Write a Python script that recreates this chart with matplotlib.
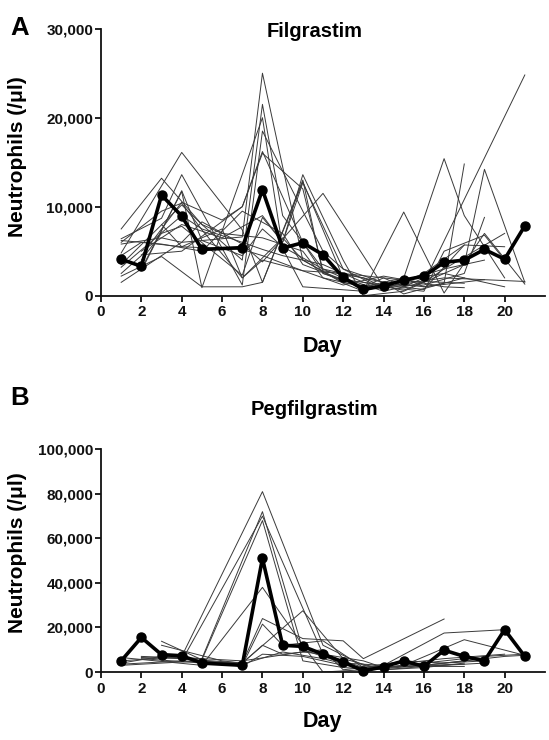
import matplotlib
matplotlib.use("Agg")
import matplotlib.pyplot as plt
import numpy as np
from matplotlib.ticker import FuncFormatter

plt.rcParams['font.family'] = ['Liberation Sans', 'DejaVu Sans']
plt.rcParams['font.weight'] = 'bold'

# ---------------- Panel A: Filgrastim ----------------
fil_mean_days = [1, 2, 3, 4, 5, 7, 8, 9, 10, 11, 12, 13, 14, 15, 16, 17, 18, 19, 20, 21]
fil_mean_vals = [4100, 3300, 11300, 8950, 5200, 5400, 11900, 5350, 5950, 4600, 2050, 700, 1100,
                 1750, 2200, 3750, 4000, 5200, 4100, 7850]

fil_ind_days = [
    [1, 3, 5, 7, 8, 9, 11, 13, 15, 17, 18, 20],
    [1, 4, 7, 8, 10, 12, 14, 16, 18, 19, 21],
    [2, 4, 5, 8, 9, 10, 13, 15, 17, 19, 21],
    [1, 3, 4, 7, 8, 11, 12, 14, 16, 17, 18],
    [1, 2, 4, 6, 7, 8, 10, 11, 13, 14, 15, 16],
    [1, 4, 5, 7, 8, 11, 14, 16, 17, 19, 20],
    [2, 4, 6, 8, 9, 10, 12, 13, 15, 16, 21],
    [1, 3, 5, 7, 9, 10, 12, 14, 16, 18, 20],
    [1, 4, 5, 6, 8, 10, 11, 13, 15, 17, 19],
    [2, 3, 4, 7, 8, 9, 10, 12, 14, 16, 18],
    [1, 3, 4, 7, 8, 10, 12, 13, 15, 17, 20],
    [2, 4, 5, 7, 8, 9, 11, 12, 14, 15, 18],
    [1, 3, 5, 7, 8, 10, 11, 13, 16, 18, 19],
    [1, 2, 4, 7, 8, 10, 12, 14, 16, 17, 20],
    [3, 4, 6, 7, 9, 10, 12, 14, 15, 16, 19],
    [1, 4, 5, 7, 8, 9, 11, 13, 15, 16, 18],
    [2, 4, 7, 8, 10, 11, 13, 14, 17, 19, 21],
    [1, 3, 4, 5, 7, 8, 10, 12, 14, 17, 18],
]
fil_ind_vals = [
    [7500, 13200, 8000, 4000, 21500, 9000, 3000, 1000, 2000, 15400, 9000, 2000],
    [4800, 16100, 7400, 1500, 12800, 2000, 500, 1500, 3500, 14200, 1500],
    [3000, 11700, 900, 20000, 5300, 1000, 500, 9400, 300, 7000, 1300],
    [6400, 8700, 13600, 1200, 18500, 5000, 3000, 1500, 1000, 1400, 14800],
    [2500, 4500, 10500, 8500, 10000, 16200, 6000, 2500, 1000, 2000, 1000, 2000],
    [1500, 6000, 8300, 5800, 3800, 11500, 1000, 500, 5000, 6800, 4000],
    [5000, 8000, 6500, 9000, 6000, 13600, 4000, 0, 500, 1500, 24800],
    [6200, 5800, 5000, 9500, 7000, 3500, 1800, 1200, 700, 5700, 5500],
    [3500, 10200, 8000, 7000, 6500, 5000, 2000, 1000, 1700, 3000, 4000],
    [4000, 7000, 7800, 2300, 8800, 6000, 12700, 3000, 700, 2500, 5700],
    [5800, 6500, 6000, 6600, 25000, 4000, 1400, 500, 1800, 2500, 1000],
    [2800, 11800, 6200, 4500, 7500, 5500, 3000, 2500, 1500, 200, 2000],
    [2200, 4400, 1000, 1000, 1500, 13000, 2500, 1000, 1200, 2500, 8800],
    [4500, 6000, 5500, 5200, 4500, 2800, 2500, 2000, 1500, 3000, 7000],
    [8000, 5500, 7500, 2000, 6500, 4000, 1500, 800, 2000, 1000, 1800],
    [3200, 9000, 7500, 6000, 5200, 4500, 3500, 1500, 600, 1600, 1400],
    [4600, 5000, 10000, 16000, 12000, 2800, 2000, 1000, 2000, 1800, 1600],
    [6000, 9500, 10400, 7400, 2000, 4000, 2800, 1200, 2200, 1000, 900],
]

# ---------------- Panel B: Pegfilgrastim ----------------
peg_mean_days = [1, 2, 3, 4, 5, 7, 8, 9, 10, 11, 12, 13, 14, 15, 16, 17, 18, 19, 20, 21]
peg_mean_vals = [5000, 15500, 7800, 7300, 4000, 3000, 51000, 12000, 11500, 8000, 4500, 500, 2300,
                 5000, 2500, 9800, 7000, 5000, 19000, 7000]

peg_ind_days = [
    [1, 4, 8, 11, 13, 14, 16, 18, 20, 21],
    [2, 5, 8, 10, 12, 14, 17, 20, 21],
    [1, 4, 8, 11, 13, 15, 17, 19],
    [3, 5, 8, 10, 12, 14, 16, 18],
    [1, 5, 8, 10, 11, 13, 15, 18, 21],
    [4, 7, 8, 10, 12, 13, 17],
    [2, 5, 7, 8, 9, 11, 13, 16, 19],
    [3, 6, 7, 10, 12, 14, 16, 18],
    [4, 7, 8, 9, 11, 12, 14, 17, 20],
    [1, 3, 7, 10, 11, 13, 14, 16, 19, 21],
    [2, 4, 7, 8, 10, 12, 14, 16, 18],
    [1, 5, 7, 9, 11, 13, 15, 17, 19],
]
peg_ind_vals = [
    [5000, 7000, 81000, 12000, 3000, 2000, 3000, 5000, 7000, 7500],
    [7000, 6000, 72000, 10000, 4000, 3000, 17500, 19000, 7000],
    [3500, 5000, 70000, 8000, 2000, 5000, 4000, 5000],
    [13800, 5500, 68000, 5000, 2000, 1000, 2500, 2500],
    [6500, 3000, 38000, 12000, 0, 1000, 3000, 14500, 7500],
    [5000, 4000, 24000, 15000, 14000, 6000, 23800],
    [6000, 4000, 3000, 21500, 12000, 14000, 2000, 3000, 6000],
    [12000, 5000, 4000, 27500, 6000, 1000, 2000, 4000],
    [6000, 4000, 12000, 8000, 10000, 1000, 3000, 6000, 8000],
    [4000, 7000, 5000, 9000, 8000, 5000, 2000, 4000, 7000, 8000],
    [6500, 6000, 2500, 8000, 7000, 3000, 1500, 3000, 3500],
    [3000, 5000, 3500, 9000, 6000, 1500, 2500, 3000, 4000],
]

W, H = 549, 740
fig = plt.figure(figsize=(W / 100, H / 100), dpi=100)


def px_rect(left, top, right, bottom):
    return [left / W, 1 - bottom / H, (right - left) / W, (bottom - top) / H]


def style_axes(ax, ymax, ystep):
    for s in ['top', 'right']:
        ax.spines[s].set_visible(False)
    for s in ['left', 'bottom']:
        ax.spines[s].set_linewidth(1.3)
        ax.spines[s].set_color('#111111')
    ax.set_xlim(0, 22)
    ax.set_ylim(0, ymax)
    ax.set_xticks(np.arange(0, 21, 2))
    ax.set_yticks(np.arange(0, ymax + 1, ystep))
    ax.yaxis.set_major_formatter(FuncFormatter(lambda v, p: f"{int(v):,}"))
    ax.tick_params(axis='both', direction='out', length=4, width=1.3, labelsize=11,
                   colors='#111111')
    ax.tick_params(axis='y', pad=1.5)
    ax.tick_params(axis='x', pad=3)
    for lab in ax.get_xticklabels() + ax.get_yticklabels():
        lab.set_fontweight('bold')


def draw(ax, ind_days, ind_vals, mean_days, mean_vals):
    for d, v in zip(ind_days, ind_vals):
        ax.plot(d, v, color='#3a3a3a', lw=0.7, zorder=2)
    ax.plot(mean_days, mean_vals, color='black', lw=2.6, marker='o', markersize=6.5,
            zorder=3, clip_on=False)


axA = fig.add_axes(px_rect(101, 28.7, 545, 295.7))
draw(axA, fil_ind_days, fil_ind_vals, fil_mean_days, fil_mean_vals)
style_axes(axA, 30000, 10000)

axB = fig.add_axes(px_rect(101, 449.3, 545, 672))
draw(axB, peg_ind_days, peg_ind_vals, peg_mean_days, peg_mean_vals)
style_axes(axB, 100000, 20000)


def ftext(x, y, s, **kw):
    fig.text(x / W, 1 - y / H, s, **kw)


ftext(10, 35, "A", fontsize=18.5, fontweight='bold', ha='left', va='baseline')
ftext(314.7, 37.3, "Filgrastim", fontsize=14.5, fontweight='bold', ha='center', va='baseline')
ftext(322.7, 352, "Day", fontsize=15.5, fontweight='bold', ha='center', va='baseline')
ftext(17.5, 157, "Neutrophils (/μl)", fontsize=15, fontweight='bold', ha='center', va='center',
      rotation=90)

ftext(10, 405, "B", fontsize=18.5, fontweight='bold', ha='left', va='baseline')
ftext(314.7, 415, "Pegfilgrastim", fontsize=14.5, fontweight='bold', ha='center', va='baseline')
ftext(322.7, 727, "Day", fontsize=15.5, fontweight='bold', ha='center', va='baseline')
ftext(17.5, 553, "Neutrophils (/μl)", fontsize=15, fontweight='bold', ha='center', va='center',
      rotation=90)

fig.savefig("out.png", dpi=100, facecolor='white')
